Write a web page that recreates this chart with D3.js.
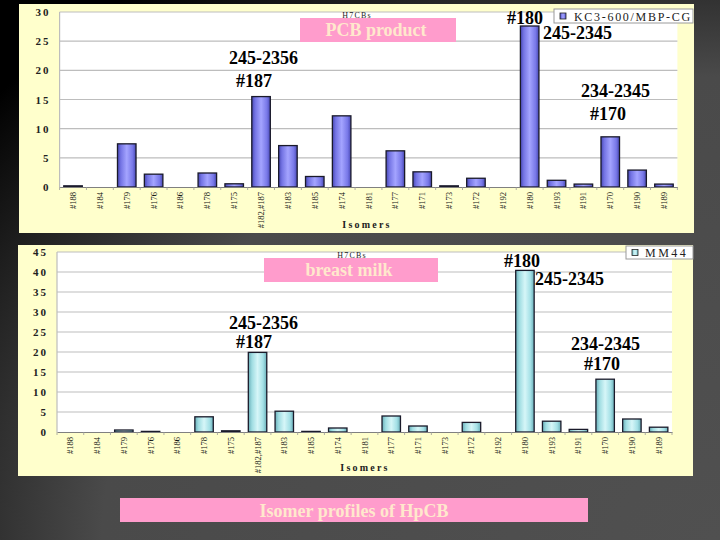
<!DOCTYPE html>
<html>
<head>
<meta charset="utf-8">
<script src="https://cdn.jsdelivr.net/npm/d3@7/dist/d3.min.js"></script>
<style>
html,body{margin:0;padding:0;background:#000;}
svg{display:block;}
</style>
</head>
<body>
<script>
// ---------- DATA ----------
const categories = ["#188","#184","#179","#176","#186","#178","#175","#182,#187","#183","#185","#174","#181","#177","#171","#173","#172","#192","#180","#193","#191","#170","#190","#189"];
const productValues = [0.2,0,7.4,2.2,0,2.4,0.55,15.5,7.1,1.8,12.2,0,6.2,2.6,0.2,1.5,0,27.6,1.15,0.5,8.6,2.9,0.5];
const milkValues = [0,0,0.5,0.15,0,3.8,0.3,19.9,5.2,0.15,1.0,0,4.0,1.5,0,2.4,0,40.4,2.7,0.65,13.2,3.25,1.2];
const productTicks = [0,5,10,15,20,25,30];
const milkTicks = [0,5,10,15,20,25,30,35,40,45];
const productSeries = "KC3-600/MBP-CG";
const milkSeries = "MM44";
const chartTitle = "H7CBs";
const xAxisTitle = "Isomers";
const productLabel = "PCB product";
const milkLabel = "breast milk";
const slideCaption = "Isomer profiles of HpCB";
const peakNotes = ["245-2356","#187","#180","245-2345","234-2345","#170"];

// ---------- DRAW ----------
const W = 720, H = 540;
const svg = d3.select("body").append("svg").attr("width", W).attr("height", H);
const defs = svg.append("defs");

const bg = defs.append("radialGradient").attr("id","bg")
  .attr("cx","100%").attr("cy","100%").attr("r","130%").attr("fx","100%").attr("fy","100%");
bg.append("stop").attr("offset","0").attr("stop-color","#505050");
bg.append("stop").attr("offset","0.66").attr("stop-color","#4a4a4a");
bg.append("stop").attr("offset","1").attr("stop-color","#000");
svg.append("rect").attr("width",W).attr("height",H).attr("fill","url(#bg)");

function barGrad(id, stops){
  const g = defs.append("linearGradient").attr("id",id).attr("x1","0").attr("x2","1").attr("y1","0").attr("y2","0");
  stops.forEach(s=>g.append("stop").attr("offset",s[0]).attr("stop-color",s[1]));
}
barGrad("gBlue", [[0,"#4848b4"],[0.18,"#7474e4"],[0.5,"#a4a4ff"],[0.82,"#7878e8"],[1,"#4848b4"]]);
barGrad("gCyan", [[0,"#6aaeb8"],[0.2,"#a0dde2"],[0.5,"#d6f6f8"],[0.8,"#a4e0e6"],[1,"#6aaeb8"]]);

const serif = "Liberation Serif, Times New Roman, serif";

function drawPanel(cfg){
  const g = svg.append("g");
  g.append("rect").attr("x",cfg.panel[0]).attr("y",cfg.panel[1])
    .attr("width",cfg.panel[2]-cfg.panel[0]).attr("height",cfg.panel[3]-cfg.panel[1])
    .attr("fill","#ffffcc");

  const x = d3.scaleBand().domain(categories).range([cfg.x0,cfg.x1]).paddingInner(0.31).paddingOuter(0.155);
  const y = d3.scaleLinear().domain([0,d3.max(cfg.ticks)]).range([cfg.yZero,cfg.yTop]);

  g.append("rect").attr("x",cfg.x0).attr("y",cfg.yTop).attr("width",cfg.x1-cfg.x0)
    .attr("height",cfg.yZero-cfg.yTop).attr("fill","#fff");

  // gridlines
  g.selectAll("line.grid").data(cfg.ticks.filter(t=>t>0)).enter().append("line")
    .attr("x1",cfg.x0).attr("x2",cfg.x1).attr("y1",d=>y(d)).attr("y2",d=>y(d))
    .attr("stroke","#bdbdbd").attr("stroke-width",1.2);
  g.append("line").attr("x1",cfg.x0).attr("x2",cfg.x0).attr("y1",cfg.yTop).attr("y2",cfg.yZero)
    .attr("stroke","#bdbdbd").attr("stroke-width",1.2);

  // title (just above the label box)
  g.append("text").attr("x",cfg.titleX).attr("y",cfg.pink[1]-0.5).attr("text-anchor","middle")
    .attr("font-family",serif).attr("font-size",8).attr("letter-spacing",1.2).attr("fill","#222")
    .text(chartTitle);

  // bars
  const data = categories.map((c,i)=>({c, v: cfg.values[i]})).filter(d=>d.v>0);
  g.selectAll("rect.bar").data(data).enter().append("rect")
    .attr("x",d=>x(d.c)).attr("width",x.bandwidth())
    .attr("y",d=>y(d.v)).attr("height",d=>y(0)-y(d.v))
    .attr("fill",`url(#${cfg.grad})`).attr("stroke","#1a1a2a").attr("stroke-width",1.3);

  // x axis
  const xa = g.append("g").attr("transform",`translate(0,${cfg.yZero})`)
    .call(d3.axisBottom(x).tickSize(0).tickPadding(0));
  xa.select(".domain").attr("stroke","#808080").attr("stroke-width",1.2);
  xa.selectAll("text").attr("font-family",serif).attr("font-size",8.5).attr("fill","#111")
    .attr("text-anchor","end").attr("dy",null)
    .attr("transform","translate(3,5) rotate(-90)");
  // small category separators
  g.selectAll("line.sep").data(d3.range(categories.length+1)).enter().append("line")
    .attr("x1",i=>cfg.x0+i*x.step()).attr("x2",i=>cfg.x0+i*x.step())
    .attr("y1",cfg.yZero).attr("y2",cfg.yZero+3).attr("stroke","#999").attr("stroke-width",0.8);

  // y axis labels
  const ya = g.append("g").attr("transform",`translate(${cfg.x0},0)`)
    .call(d3.axisLeft(y).tickValues(cfg.ticks).tickSize(0).tickPadding(9));
  ya.select(".domain").remove();
  ya.selectAll("text").attr("font-family",serif).attr("font-size",11).attr("fill","#222")
    .attr("letter-spacing",2).attr("font-weight","bold");

  // axis title
  g.append("text").attr("x",cfg.axisTitleX).attr("y",cfg.axisTitleY).attr("text-anchor","middle")
    .attr("font-family",serif).attr("font-size",10).attr("font-weight","bold")
    .attr("letter-spacing",2.2).attr("fill","#222").text(xAxisTitle);

  // legend
  const L = cfg.legend;
  g.append("rect").attr("x",L[0]).attr("y",L[1]).attr("width",L[2]).attr("height",L[3])
    .attr("fill","#fff").attr("stroke","#9a9a9a").attr("stroke-width",1);
  g.append("rect").attr("x",L[0]+6).attr("y",L[1]+L[3]/2-3).attr("width",6).attr("height",6)
    .attr("fill",`url(#${cfg.grad})`).attr("stroke","#222").attr("stroke-width",0.8);
  g.append("text").attr("x",L[0]+L[4]).attr("y",L[1]+L[3]/2+4.5)
    .attr("font-family",serif).attr("font-size",12).attr("letter-spacing",L[5]).attr("fill","#222")
    .text(cfg.series);

  // pink label
  const P = cfg.pink;
  g.append("rect").attr("x",P[0]).attr("y",P[1]).attr("width",P[2]-P[0]).attr("height",P[3]-P[1]).attr("fill","#ff9ccc");
  g.append("text").attr("x",(P[0]+P[2])/2 - 2).attr("y",P[3]-6).attr("text-anchor","middle")
    .attr("font-family",serif).attr("font-size",18).attr("font-weight","bold").attr("fill","#ffe8cc")
    .text(cfg.label);

  // peak notes
  cfg.notes.forEach((p,i)=>{
    g.append("text").attr("x",p[0]).attr("y",p[1]).attr("font-family",serif).attr("font-size",18)
      .attr("font-weight","bold").attr("fill","#000").text(peakNotes[i]);
  });
}

drawPanel({
  panel:[19,4,694,233], x0:59.6, x1:677.4, yTop:12, yZero:187,
  ticks:productTicks, values:productValues, grad:"gBlue", series:productSeries,
  titleX:357, axisTitleX:367, axisTitleY:228,
  legend:[554,9,139,14,20,1.7],
  pink:[300,18,456,42], label:productLabel,
  notes:[[229,64],[236,87],[507,24],[543,39],[581,97],[590,120]]
});
drawPanel({
  panel:[18,245,693,476], x0:57, x1:672, yTop:252, yZero:432,
  ticks:milkTicks, values:milkValues, grad:"gCyan", series:milkSeries,
  titleX:352, axisTitleX:365, axisTitleY:471,
  legend:[626,246,67,13,19,2.5],
  pink:[264,258,438,282], label:milkLabel,
  notes:[[229,329],[236,348],[504,267],[535,285],[571,350],[584,370]]
});

// slide caption
svg.append("rect").attr("x",120).attr("y",498).attr("width",468).attr("height",24).attr("fill","#ff9ccc");
svg.append("text").attr("x",354).attr("y",517).attr("text-anchor","middle")
  .attr("font-family",serif).attr("font-size",18).attr("font-weight","bold").attr("fill","#ffe8cc")
  .text(slideCaption);
</script>
</body>
</html>
